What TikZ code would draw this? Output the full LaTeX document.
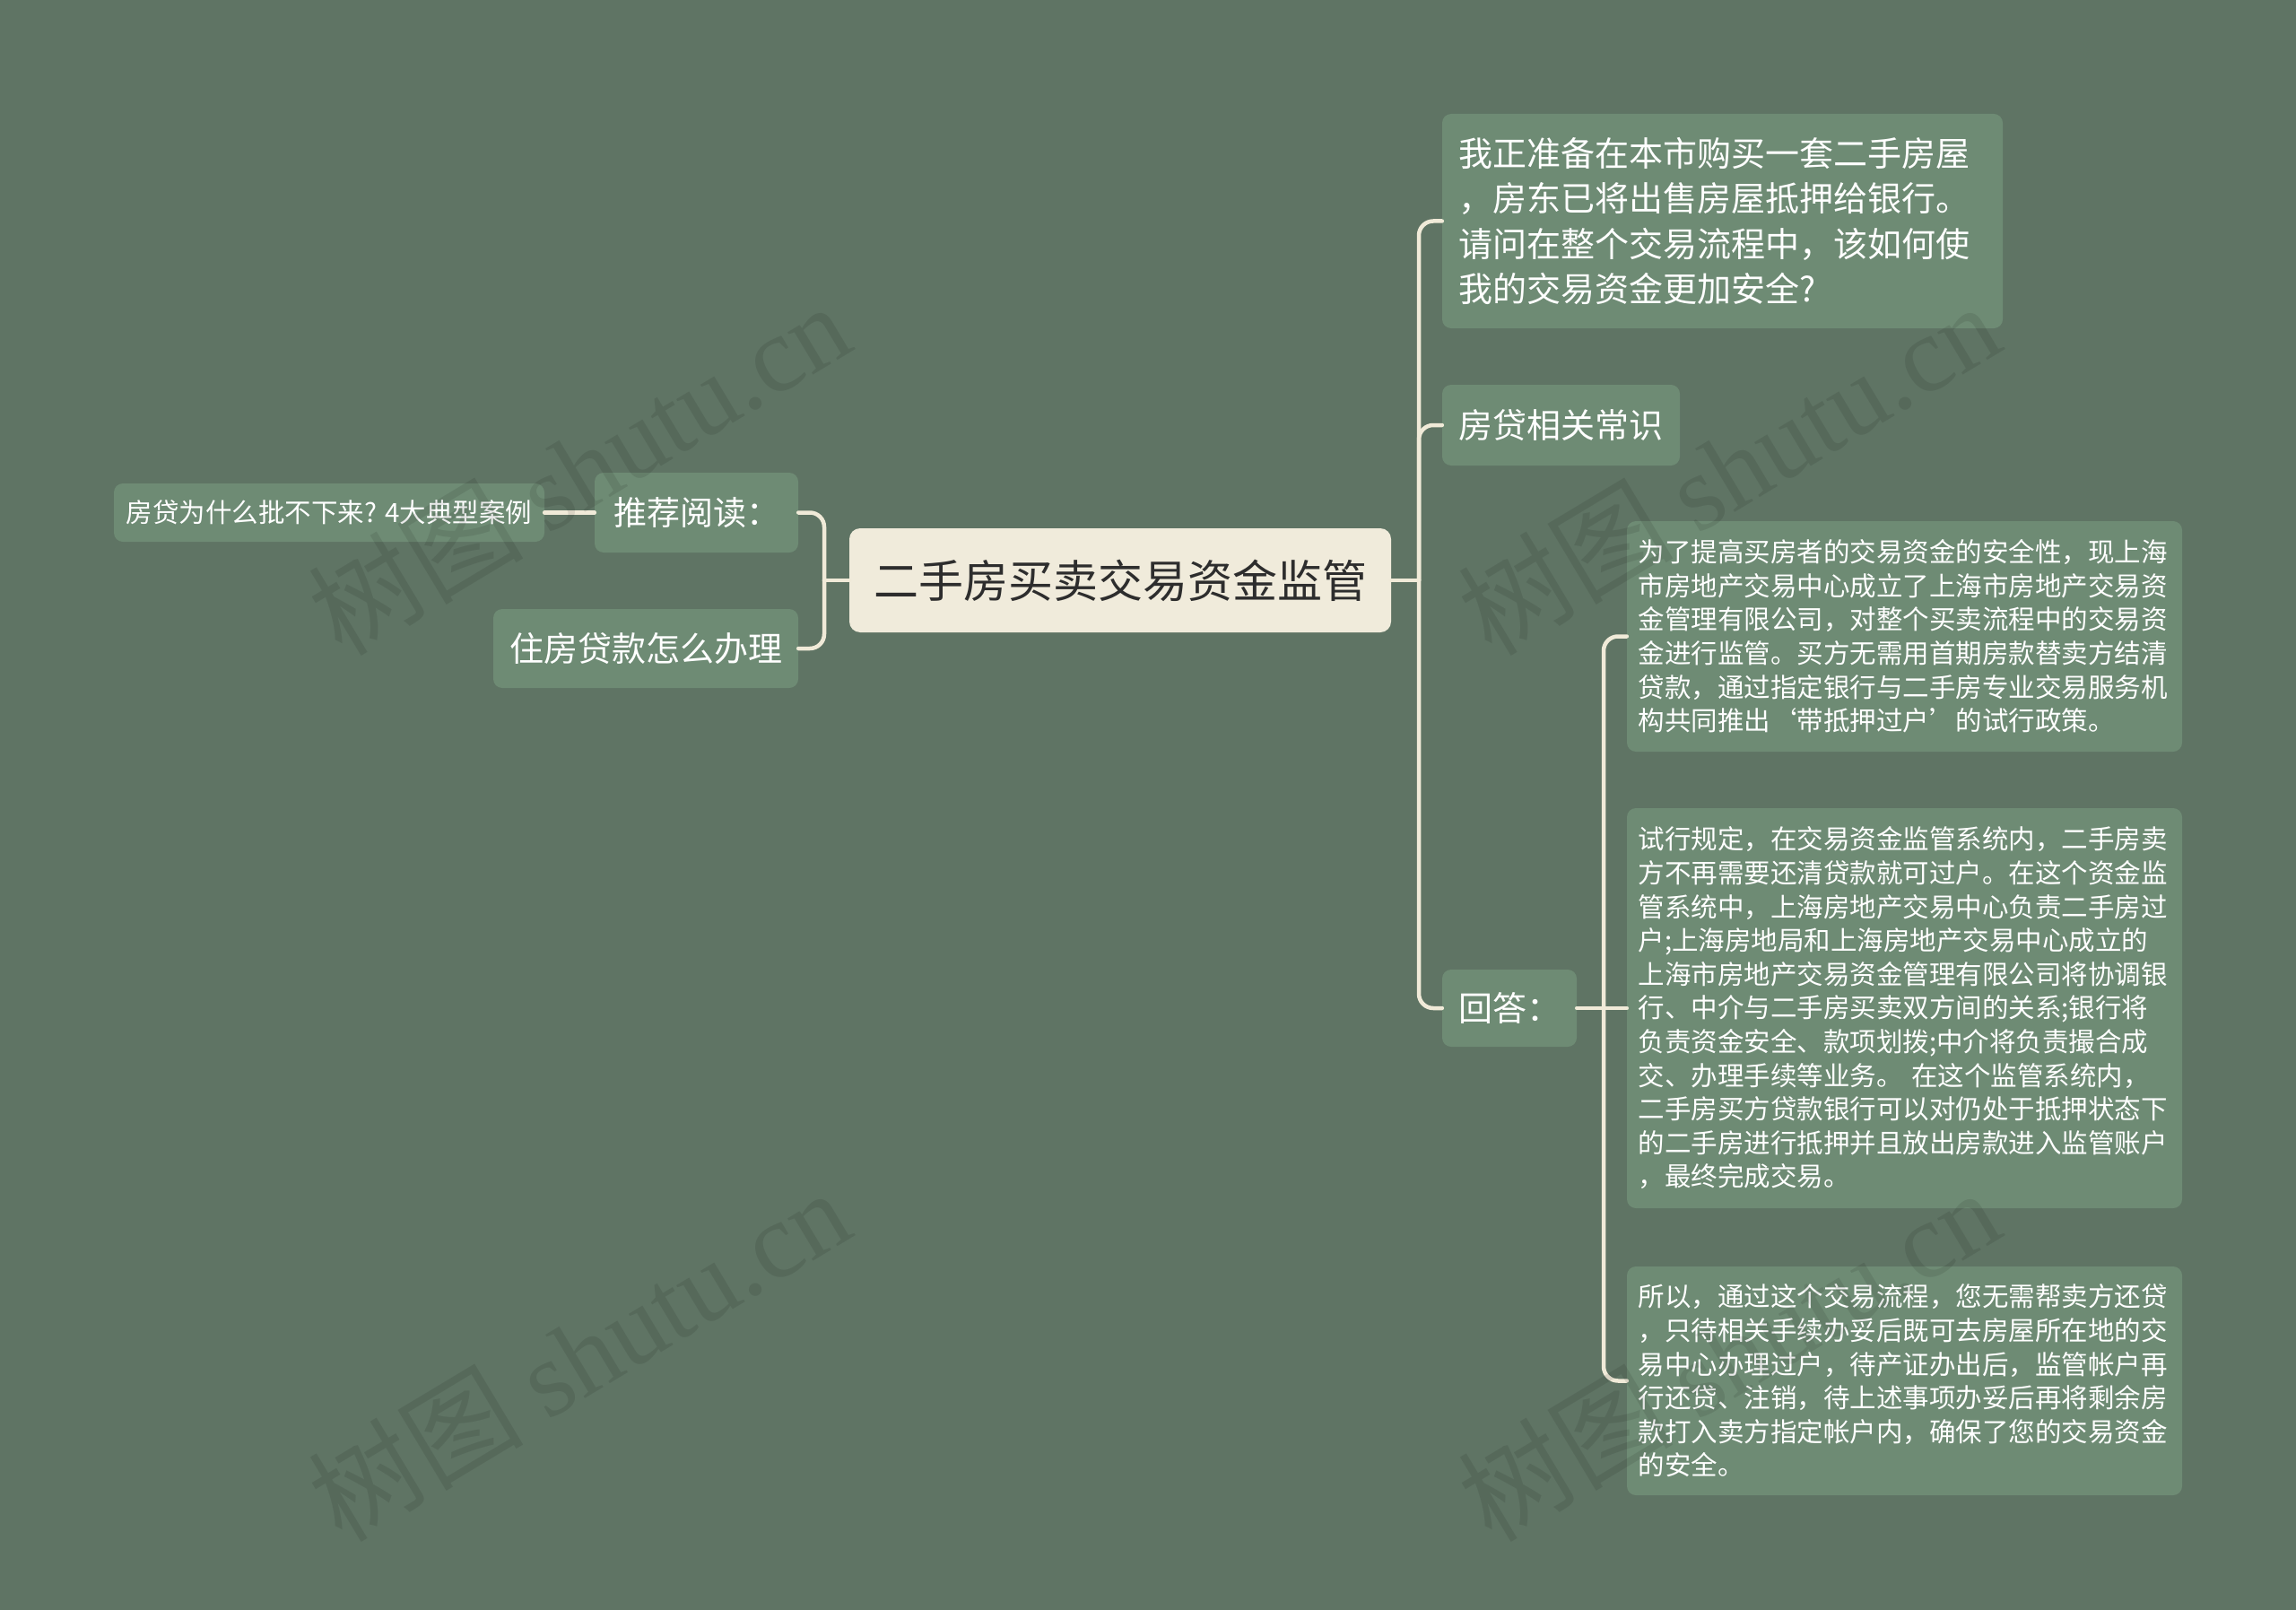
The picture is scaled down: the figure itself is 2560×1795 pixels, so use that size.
\documentclass[tikz,border=0pt]{standalone}
\usepackage{fontspec}
\setmainfont{Noto Sans CJK SC}
\newfontfamily\wmlatin{Liberation Serif}
\definecolor{bg}{RGB}{95,116,100}
\definecolor{nodefill}{RGB}{110,139,116}
\definecolor{rootfill}{RGB}{240,235,219}
\definecolor{conncol}{RGB}{240,234,216}
\definecolor{roottext}{RGB}{45,45,45}
\begin{document}
\begin{tikzpicture}[x=1pt,y=-1pt,
  box/.style={rectangle, rounded corners=10, fill=nodefill, text=white, inner sep=0pt, align=left},
  rootbox/.style={rectangle, rounded corners=12, fill=rootfill, text=roottext, inner sep=0pt,
     font=\fontsize{50}{60}\selectfont},
  big/.style={font=\fontsize{38}{50.6}\selectfont},
  mid/.style={font=\fontsize{37}{48}\selectfont},
  small/.style={font=\fontsize{29.5}{37.6}\selectfont},
  conn/.style={draw=conncol, line width=4.5, line cap=round},
  rc/.style={conn, rounded corners=16},
  wm/.style={rotate=31, text=black, opacity=0.09, font=\fontsize{120}{130}\selectfont}
]
\fill[bg] (0,0) rectangle (2560,1795);
\useasboundingbox (0,0) rectangle (2560,1795);

% root
\node[rootbox, minimum width=604, minimum height=116] (root) at (1249,647) {二手房买卖交易资金监管};

% right side
\node[box, big, minimum width=625, minimum height=239, text width=589, inner xsep=18] (q) at (1920.5,246.5)
 {我正准备在本市购买一套二手房屋\\，房东已将出售房屋抵押给银行。\\请问在整个交易流程中，该如何使\\我的交易资金更加安全?};
\node[box, big, minimum width=265, minimum height=90] (fd) at (1740.5,474) {房贷相关常识};
\node[box, big, minimum width=150, minimum height=86] (ans) at (1683,1124) {回答：};

\node[box, small, minimum width=619, minimum height=257, text width=594, inner xsep=12.5] (a1) at (2123.5,709.5)
 {为了提高买房者的交易资金的安全性，现上海\\市房地产交易中心成立了上海市房地产交易资\\金管理有限公司，对整个买卖流程中的交易资\\金进行监管。买方无需用首期房款替卖方结清\\贷款，通过指定银行与二手房专业交易服务机\\构共同推出‘带抵押过户’的试行政策。};
\node[box, small, minimum width=619, minimum height=446, text width=594, inner xsep=12.5] (a2) at (2123.5,1124)
 {试行规定，在交易资金监管系统内，二手房卖\\方不再需要还清贷款就可过户。在这个资金监\\管系统中，上海房地产交易中心负责二手房过\\户;上海房地局和上海房地产交易中心成立的\\上海市房地产交易资金管理有限公司将协调银\\行、中介与二手房买卖双方间的关系;银行将\\负责资金安全、款项划拨;中介将负责撮合成\\交、办理手续等业务。 在这个监管系统内，\\二手房买方贷款银行可以对仍处于抵押状态下\\的二手房进行抵押并且放出房款进入监管账户\\，最终完成交易。};
\node[box, small, minimum width=619, minimum height=255, text width=594, inner xsep=12.5] (a3) at (2123.5,1539.5)
 {所以，通过这个交易流程，您无需帮卖方还贷\\，只待相关手续办妥后既可去房屋所在地的交\\易中心办理过户，待产证办出后，监管帐户再\\行还贷、注销，待上述事项办妥后再将剩余房\\款打入卖方指定帐户内，确保了您的交易资金\\的安全。};

% left side
\node[box, mid, minimum width=227, minimum height=89] (tj) at (776.5,571.5) {推荐阅读：};
\node[box, big, minimum width=340, minimum height=88] (zf) at (720,723) {住房贷款怎么办理};
\node[box, small, minimum width=480, minimum height=65] (tjc) at (367,571.5) {房贷为什么批不下来? 4大典型案例};

% junctions
\coordinate (lj) at (919,647);
\coordinate (rj) at (1582,647);
\coordinate (aj) at (1788,1124);

% connectors
\draw[conn] (root.west) -- (lj);
\draw[rc] (lj) |- (tj.east);
\draw[rc] (lj) |- (zf.east);
\draw[conn] (tj.west) -- (tjc.east);

\draw[conn] (root.east) -- (rj);
\draw[rc] (rj) |- (q.west);
\draw[rc] (rj) |- (fd.west);
\draw[rc] (rj) |- (ans.west);

\draw[conn] (ans.east) -- (a2.west);
\draw[rc] (aj) |- (a1.west);
\draw[rc] (aj) |- (a3.west);

% watermarks
\node[wm] (w1) at (645,522) {树图 {\wmlatin shutu.cn}};
\node[wm] (w2) at (1927,522) {树图 {\wmlatin shutu.cn}};
\node[wm] (w3) at (645,1510) {树图 {\wmlatin shutu.cn}};
\node[wm] (w4) at (1927,1510) {树图 {\wmlatin shutu.cn}};
\end{tikzpicture}
\end{document}
